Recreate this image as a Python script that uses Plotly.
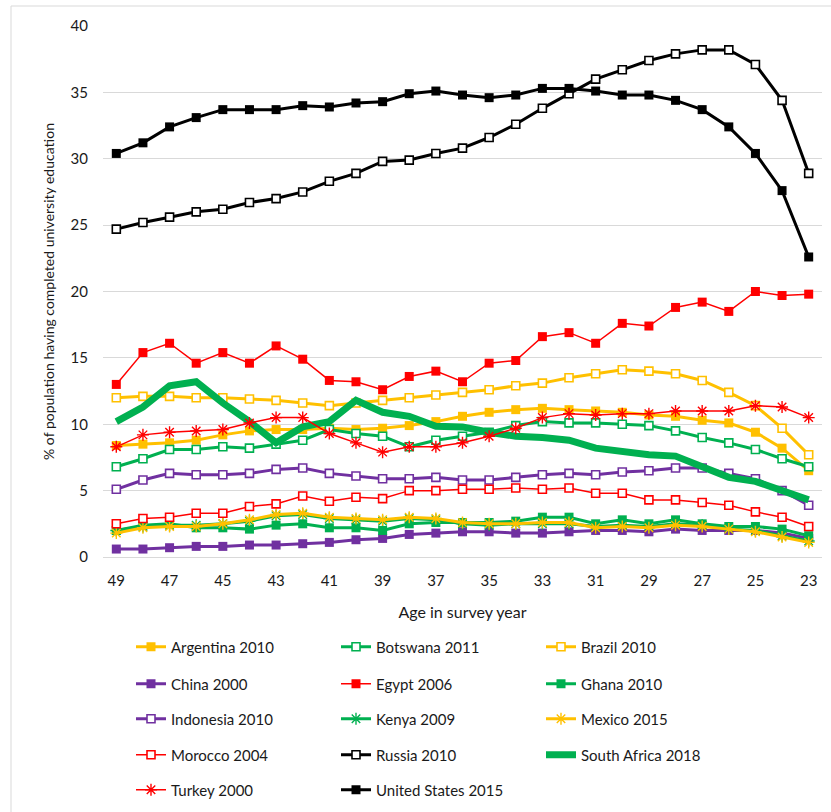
import plotly.graph_objects as go

# Age in survey year (x categories, oldest to youngest)
ages = [49, 48, 47, 46, 45, 44, 43, 42, 41, 40, 39, 38, 37, 36, 35, 34,
        33, 32, 31, 30, 29, 28, 27, 26, 25, 24, 23]
age_ticks = [49, 47, 45, 43, 41, 39, 37, 35, 33, 31, 29, 27, 25, 23]
pct_ticks = [0, 5, 10, 15, 20, 25, 30, 35, 40]

# % of population having completed university education, by age
argentina_2010 = [8.4, 8.5, 8.6, 8.8, 9.2, 9.5, 9.6, 9.6, 9.7, 9.6, 9.7, 9.9, 10.2, 10.6,
                  10.9, 11.1, 11.2, 11.1, 11.0, 10.9, 10.7, 10.6, 10.3, 10.1, 9.4, 8.2, 6.5]
botswana_2011 = [6.8, 7.4, 8.1, 8.1, 8.3, 8.2, 8.5, 8.8, 9.6, 9.3, 9.1, 8.3, 8.8, 9.1,
                 9.4, 9.9, 10.2, 10.1, 10.1, 10.0, 9.9, 9.5, 9.0, 8.6, 8.1, 7.4, 6.8]
brazil_2010 = [12.0, 12.1, 12.1, 12.0, 12.0, 11.9, 11.8, 11.6, 11.4, 11.6, 11.8, 12.0, 12.2, 12.4,
               12.6, 12.9, 13.1, 13.5, 13.8, 14.1, 14.0, 13.8, 13.3, 12.4, 11.4, 9.7, 7.7]
china_2000 = [0.6, 0.6, 0.7, 0.8, 0.8, 0.9, 0.9, 1.0, 1.1, 1.3, 1.4, 1.7, 1.8, 1.9,
              1.9, 1.8, 1.8, 1.9, 2.0, 2.0, 1.9, 2.1, 2.0, 2.0, 2.0, 1.8, 1.4]
egypt_2006 = [13.0, 15.4, 16.1, 14.6, 15.4, 14.6, 15.9, 14.9, 13.3, 13.2, 12.6, 13.6, 14.0, 13.2,
              14.6, 14.8, 16.6, 16.9, 16.1, 17.6, 17.4, 18.8, 19.2, 18.5, 20.0, 19.7, 19.8]
ghana_2010 = [2.0, 2.4, 2.5, 2.2, 2.2, 2.1, 2.4, 2.5, 2.2, 2.2, 2.0, 2.5, 2.6, 2.6,
              2.6, 2.7, 3.0, 3.0, 2.5, 2.8, 2.5, 2.8, 2.5, 2.3, 2.3, 2.1, 1.6]
indonesia_2010 = [5.1, 5.8, 6.3, 6.2, 6.2, 6.3, 6.6, 6.7, 6.3, 6.1, 5.9, 5.9, 6.0, 5.8,
                  5.8, 6.0, 6.2, 6.3, 6.2, 6.4, 6.5, 6.7, 6.7, 6.3, 5.9, 5.0, 3.9]
kenya_2009 = [2.0, 2.3, 2.4, 2.4, 2.5, 2.7, 3.1, 3.2, 2.9, 2.8, 2.7, 2.9, 2.8, 2.5,
              2.4, 2.5, 2.5, 2.5, 2.3, 2.4, 2.3, 2.5, 2.4, 2.1, 2.0, 1.6, 1.2]
mexico_2015 = [1.8, 2.2, 2.3, 2.3, 2.5, 2.8, 3.2, 3.3, 3.0, 2.9, 2.8, 3.0, 2.9, 2.6,
               2.5, 2.5, 2.6, 2.6, 2.2, 2.3, 2.2, 2.4, 2.3, 2.1, 1.9, 1.5, 1.1]
morocco_2004 = [2.5, 2.9, 3.0, 3.3, 3.3, 3.8, 4.0, 4.6, 4.2, 4.5, 4.4, 5.0, 5.0, 5.1,
                5.1, 5.2, 5.1, 5.2, 4.8, 4.8, 4.3, 4.3, 4.1, 3.9, 3.4, 3.0, 2.3]
russia_2010 = [24.7, 25.2, 25.6, 26.0, 26.2, 26.7, 27.0, 27.5, 28.3, 28.9, 29.8, 29.9, 30.4, 30.8,
               31.6, 32.6, 33.8, 34.9, 36.0, 36.7, 37.4, 37.9, 38.2, 38.2, 37.1, 34.4, 28.9]
south_africa_2018 = [10.2, 11.3, 12.9, 13.2, 11.6, 10.2, 8.6, 9.8, 10.2, 11.8, 10.9, 10.6, 9.85, 9.8,
                     9.4, 9.1, 9.0, 8.8, 8.2, 7.9, 7.7, 7.6, 6.8, 6.0, 5.7, 5.0, 4.3]
turkey_2000 = [8.3, 9.2, 9.4, 9.5, 9.6, 10.1, 10.5, 10.5, 9.3, 8.6, 7.9, 8.3, 8.3, 8.6,
               9.1, 9.7, 10.5, 10.8, 10.7, 10.8, 10.8, 11.0, 11.0, 11.0, 11.4, 11.3, 10.5]
united_states_2015 = [30.4, 31.2, 32.4, 33.1, 33.7, 33.7, 33.7, 34.0, 33.9, 34.2, 34.3, 34.9, 35.1, 34.8,
                      34.6, 34.8, 35.3, 35.3, 35.1, 34.8, 34.8, 34.4, 33.7, 32.4, 30.4, 27.6, 22.6]

GOLD = "#FFC000"
GREEN = "#00B050"
PURPLE = "#7030A0"
RED = "#FF0000"
BLACK = "#000000"
FONT = "Lato, 'Open Sans', sans-serif"
TEXT = "#1a1a1a"

# name, values, colour, line width, marker style ("filled", "open", "star", None), legend row
series = [
    ("Argentina 2010", argentina_2010, GOLD, 3, "filled", 1),
    ("Botswana 2011", botswana_2011, GREEN, 3, "open", 1),
    ("Brazil 2010", brazil_2010, GOLD, 3, "open", 1),
    ("China 2000", china_2000, PURPLE, 3, "filled", 2),
    ("Egypt 2006", egypt_2006, RED, 1.5, "filled", 2),
    ("Ghana 2010", ghana_2010, GREEN, 3, "filled", 2),
    ("Indonesia 2010", indonesia_2010, PURPLE, 3, "open", 3),
    ("Kenya 2009", kenya_2009, GREEN, 3, "star", 3),
    ("Mexico 2015", mexico_2015, GOLD, 3, "star", 3),
    ("Morocco 2004", morocco_2004, RED, 1.5, "open", 4),
    ("Russia 2010", russia_2010, BLACK, 3, "open", 4),
    ("South Africa 2018", south_africa_2018, GREEN, 7, None, 4),
    ("Turkey 2000", turkey_2000, RED, 1.5, "star", 5),
    ("United States 2015", united_states_2015, BLACK, 3, "filled", 5),
]

fig = go.Figure()
for name, vals, col, lw, mk, row in series:
    if mk == "filled":
        marker = dict(symbol="square", size=9, color=col, line=dict(width=0))
        mode = "lines+markers"
    elif mk == "open":
        marker = dict(symbol="square", size=8, color="white", line=dict(color=col, width=1.6))
        mode = "lines+markers"
    elif mk == "star":
        marker = dict(symbol="asterisk-open", size=10, color=col, line=dict(color=col, width=1.4))
        mode = "lines+markers"
    else:
        marker = None
        mode = "lines"
    fig.add_trace(go.Scatter(
        x=ages, y=vals, name=name, mode=mode,
        line=dict(color=col, width=lw),
        marker=marker,
        legend="legend" if row == 1 else f"legend{row}",
        hoverinfo="x+y+name",
    ))

# Plot-area geometry in pixels
W, H = 831, 812
ML, MR, MT, MB = 103, 9, 26, 255
PW, PH = W - ML - MR, H - MT - MB

def px_x(p):
    return (p - ML) / PW

def px_y(p):
    return (H - MB - p) / PH

legend_rows = [647, 684, 719, 755, 790]
legend_common = dict(
    orientation="h", xanchor="left", yanchor="middle",
    x=px_x(131), entrywidth=160, entrywidthmode="pixels",
    font=dict(family=FONT, size=15, color=TEXT),
    bgcolor="rgba(0,0,0,0)", borderwidth=0, tracegroupgap=0,
    traceorder="normal",
)
legends = {}
for i, ry in enumerate(legend_rows):
    key = "legend" if i == 0 else f"legend{i + 1}"
    legends[key] = dict(legend_common, y=px_y(ry))

fig.update_layout(
    width=W, height=H,
    margin=dict(l=ML, r=MR, t=MT, b=MB, autoexpand=False),
    paper_bgcolor="white", plot_bgcolor="white",
    font=dict(family=FONT, size=15, color=TEXT),
    showlegend=True,
    **legends,
    xaxis=dict(
        range=[49.5, 22.5],
        tickmode="array", tickvals=age_ticks, ticktext=[str(a) for a in age_ticks],
        showgrid=False, zeroline=False,
        showline=True, linecolor="#d9d9d9", linewidth=1,
        ticks="", ticklabelstandoff=10,
        tickfont=dict(family=FONT, size=15, color=TEXT),
        title=dict(text="Age in survey year", font=dict(family=FONT, size=16, color=TEXT), standoff=18),
    ),
    yaxis=dict(
        range=[0, 40],
        tickmode="array", tickvals=pct_ticks,
        showgrid=True, gridcolor="#d9d9d9", gridwidth=1,
        zeroline=False, showline=False,
        ticks="", ticklabelstandoff=14,
        tickfont=dict(family=FONT, size=15, color=TEXT),
        title=dict(text="% of population having completed university education",
                   font=dict(family=FONT, size=14, color=TEXT), standoff=12),
    ),
    shapes=[dict(
        type="rect", xref="paper", yref="paper",
        x0=px_x(11), x1=px_x(W + 20), y0=px_y(H + 20), y1=px_y(6),
        line=dict(color="#d9d9d9", width=1), fillcolor="rgba(0,0,0,0)", layer="below",
    )],
)

fig.write_html("out.html")
